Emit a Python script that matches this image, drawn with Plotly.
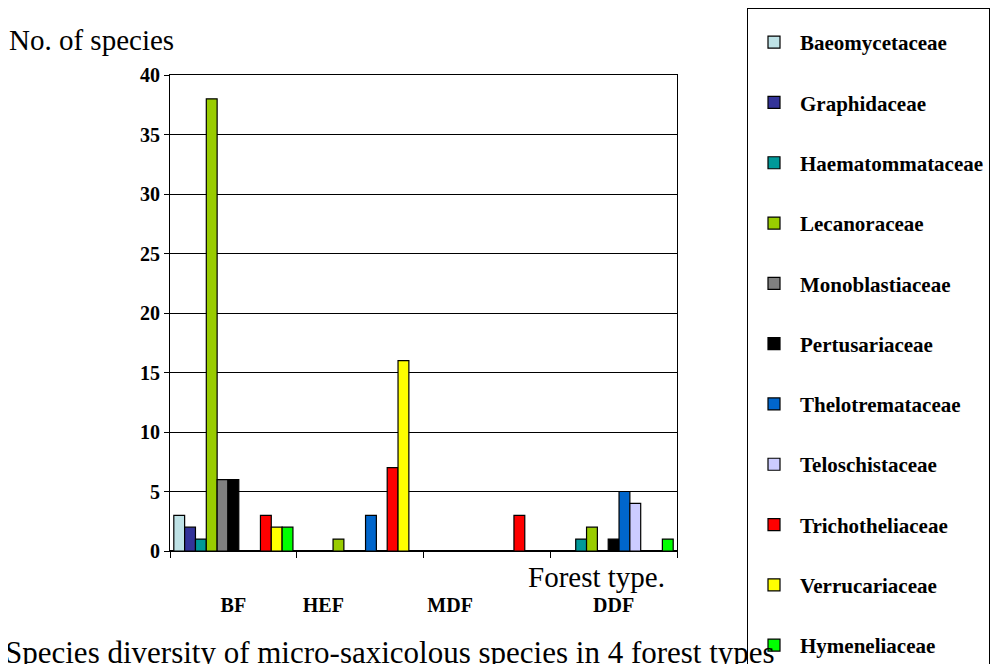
import plotly.graph_objects as go

categories = ["BF", "HEF", "MDF", "DDF"]
families = ["Baeomycetaceae", "Graphidaceae", "Haematommataceae", "Lecanoraceae",
            "Monoblastiaceae", "Pertusariaceae", "Thelotremataceae", "Teloschistaceae",
            "Trichotheliaceae", "Verrucariaceae", "Hymeneliaceae"]
values = {
    "Baeomycetaceae":   [3, 0, 0, 0],
    "Graphidaceae":     [2, 0, 0, 0],
    "Haematommataceae": [1, 0, 0, 1],
    "Lecanoraceae":     [38, 1, 0, 2],
    "Monoblastiaceae":  [6, 0, 0, 0],
    "Pertusariaceae":   [6, 0, 0, 1],
    "Thelotremataceae": [0, 3, 0, 5],
    "Teloschistaceae":  [0, 0, 0, 4],
    "Trichotheliaceae": [3, 7, 3, 0],
    "Verrucariaceae":   [2, 16, 0, 0],
    "Hymeneliaceae":    [2, 0, 0, 1],
}
colors = ["#BEE2E6", "#333399", "#009999", "#99CC00", "#808080", "#000000",
          "#0066CC", "#CCCCFF", "#FF0000", "#FFFF00", "#00FF00"]
label_pos = [0, 0.71, 1.71, 3]
y_ticks = list(range(0, 41, 5))

serif = "Liberation Serif, Times New Roman, serif"
x_idx = list(range(len(categories)))

W, H = 1000, 664
OFF = 8  # page body margin
L, T = 170 - OFF, 75 - OFF
pw, ph = 507, 476
R, B = W - L - pw, H - T - ph


def px_x(x):
    return (x - OFF - L) / pw


def px_y(y):
    return (T + ph - (y - OFF)) / ph


fig = go.Figure()
for i, fam in enumerate(families):
    fig.add_trace(go.Bar(
        x=x_idx, y=values[fam], name=fam, legendgroup=fam,
        marker=dict(color=colors[i], line=dict(color="black", width=1.2)),
    ))

fig.update_layout(
    width=W, height=H,
    margin=dict(l=L, r=R, t=T, b=B, autoexpand=False),
    paper_bgcolor="white", plot_bgcolor="white",
    barmode="group", bargap=0.06, bargroupgap=0,
    font=dict(family=serif, color="black"),
    showlegend=True,
    legend=dict(
        x=px_x(747), y=px_y(8), xref="paper", yref="paper",
        xanchor="left", yanchor="top",
        title=dict(text=" ", font=dict(size=10)),
        font=dict(family=serif, size=21, color="black", weight="bold"),
        bgcolor="white", bordercolor="black", borderwidth=1,
        traceorder="grouped", tracegroupgap=30,
        itemwidth=42, maxheight=800,
    ),
    xaxis=dict(
        range=[-0.5, 3.5], showgrid=False, zeroline=False,
        showline=True, linecolor="black", linewidth=1, mirror=True,
        tickvals=label_pos, ticktext=categories, ticks="",
        tickfont=dict(family=serif, size=20, weight="bold"),
        ticklabelstandoff=36,
        minor=dict(tickvals=[-0.5, 0.5, 1.5, 2.5, 3.5], ticks="outside",
                   ticklen=6, tickcolor="black", showgrid=False),
    ),
    yaxis=dict(
        range=[0, 40], tickvals=y_ticks, showgrid=True, gridcolor="black", gridwidth=1,
        zeroline=True, zerolinecolor="black", zerolinewidth=2,
        showline=True, linecolor="black", linewidth=1, mirror=True,
        ticks="outside", ticklen=5, tickcolor="black",
        tickfont=dict(family=serif, size=20, weight="bold"),
    ),
    annotations=[
        dict(text="No. of species", x=px_x(7), y=px_y(40), xref="paper", yref="paper",
             xanchor="left", yanchor="middle",
             showarrow=False, font=dict(family=serif, size=29)),
        dict(text="Forest type.", x=px_x(667), y=px_y(577), xref="paper", yref="paper",
             xanchor="right", yanchor="middle", showarrow=False,
             font=dict(family=serif, size=29)),
        dict(text="Species diversity of micro-saxicolous species in 4 forest types",
             x=px_x(3), y=px_y(633), xref="paper", yref="paper",
             xanchor="left", yanchor="top",
             showarrow=False, font=dict(family=serif, size=31)),
    ],
)

fig.write_html("out.html")
